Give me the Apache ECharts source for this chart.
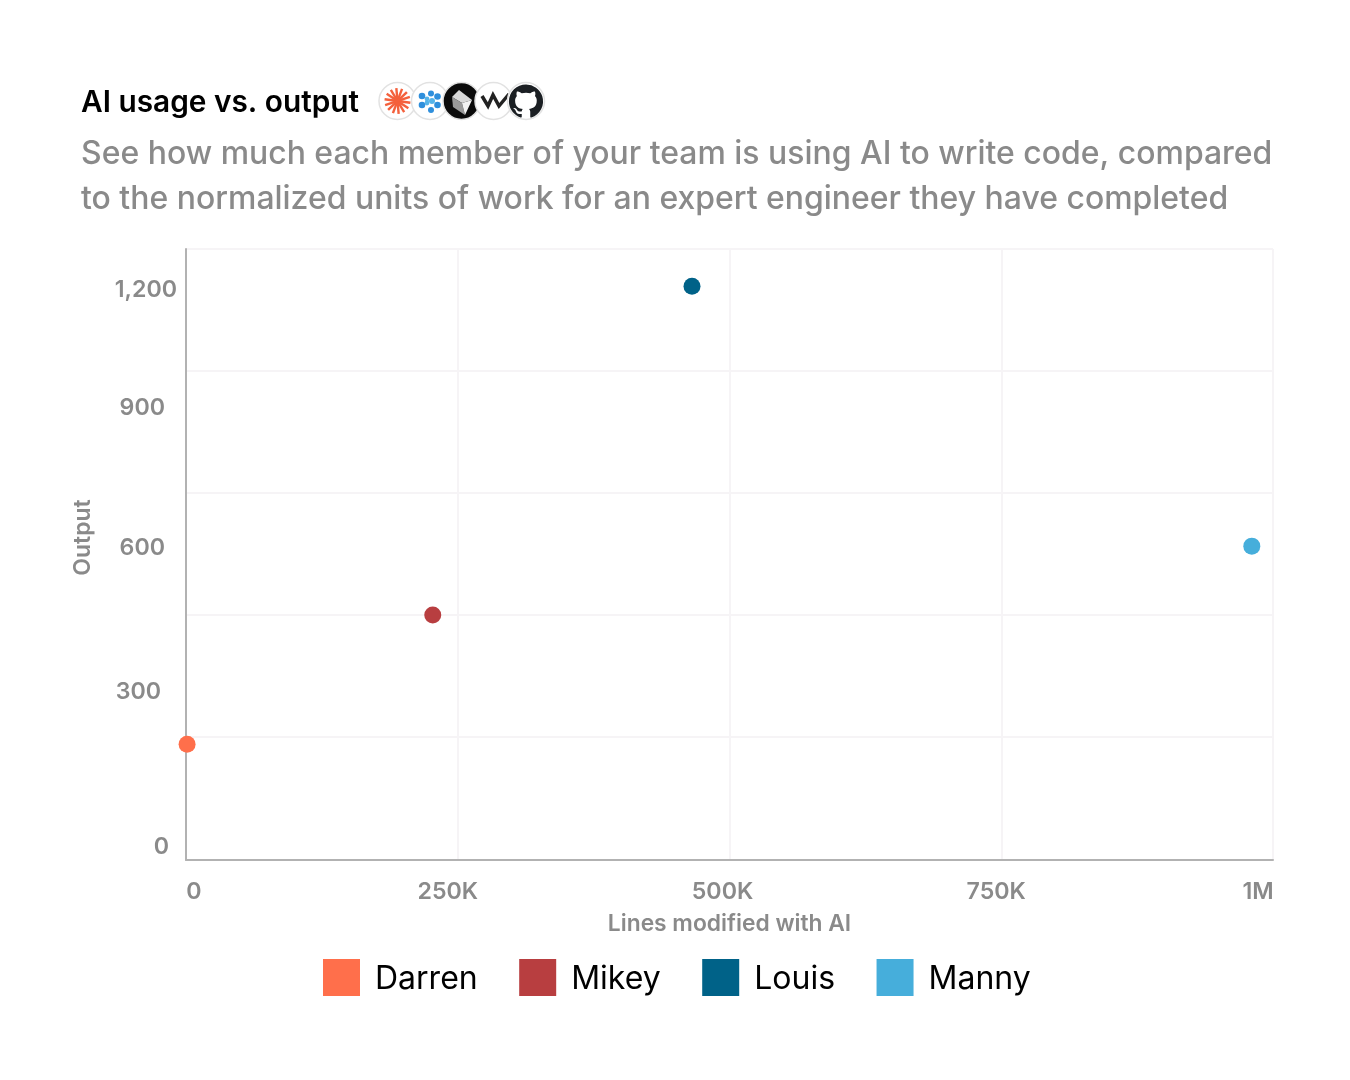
<!DOCTYPE html>
<html><head><meta charset="utf-8">
<style>html,body{margin:0;padding:0;background:#fff}#c{width:1350px;height:1080px}</style>
<script src="https://cdn.jsdelivr.net/npm/echarts@6/dist/echarts.min.js"></script>
</head><body><div id="c"></div>
<script>
const people = ['Darren','Mikey','Louis','Manny'];
const colors = ['#FF6F4B','#B83E40','#006288','#46AEDB'];
const linesModified = [1000, 227000, 465500, 980500];
const outputValues = [219, 497, 1204, 645];
const yTickValues = [0, 300, 600, 900, 1200];
const yGridValues = [-30, 234, 497, 759, 1022, 1284];
const xTickValues = [0, 250000, 500000, 750000, 1000000];
const xTickLabels = ['0','250K','500K','750K','1M'];

const FONT = 'Inter';
const GREY = '#8a8a8a';
const yNudge = {0:[2,8,0,0],300:[0,16,29,0],600:[0,12,38,0],900:[0,12,40,0],1200:[4,0,0,0]};
const xNudge = {0:[0,0,0,16],250000:[0,20,0,0],500000:[0,14,0,0],750000:[0,10,0,0],1000000:[0,30,0,0]};
const labelStyle = {fontFamily:FONT,fontSize:23.2,fontWeight:600,color:GREY,lineHeight:30};
const yRich = {}; yTickValues.forEach(v=>{yRich['v'+v]=Object.assign({padding:yNudge[v]},labelStyle)});
const xRich = {}; xTickValues.forEach(v=>{xRich['v'+v]=Object.assign({padding:xNudge[v]},labelStyle)});

const GITHUB = 'M12 .3a12 12 0 0 0-3.8 23.4c.6.1.8-.3.8-.6v-2c-3.3.7-4-1.6-4-1.6-.6-1.4-1.4-1.8-1.4-1.8-1-.7.1-.7.1-.7 1.2 0 1.9 1.2 1.9 1.2 1 1.8 2.8 1.3 3.5 1 0-.8.4-1.3.7-1.6-2.7-.3-5.5-1.3-5.5-6 0-1.2.5-2.3 1.3-3.1-.2-.4-.6-1.6 0-3.2 0 0 1-.3 3.4 1.2a11.5 11.5 0 0 1 6 0c2.3-1.5 3.3-1.2 3.3-1.2.6 1.6.2 2.8 0 3.2.9.8 1.3 1.9 1.3 3.2 0 4.6-2.8 5.6-5.5 5.9.5.4.9 1 .9 2.2v3.3c0 .3.1.7.8.6A12 12 0 0 0 12 .3';
echarts.graphic.registerShape('ghcat', echarts.graphic.extendPath(GITHUB, {}));
const ring = (cx,fill)=>({type:'circle',shape:{cx:cx,cy:101,r:18.5},style:{fill:fill||'#fff',stroke:'#e2e2e2',lineWidth:1.5}});
const rays = [];
for(let i=0;i<7;i++){const a=(i+0.3)*Math.PI/7,c=Math.cos(a)*13,s=Math.sin(a)*13;
  rays.push({type:'line',shape:{x1:397.5-c,y1:101-s,x2:397.5+c,y2:101+s},style:{stroke:'#F4603C',lineWidth:2.4}});}
const blue = [[422,96,3.3,'#2F8FDC'],[422,105,3.3,'#2F8FDC'],[431,93.5,3,'#2F8FDC'],[431,110,3,'#2F8FDC'],[437.5,96.5,3.3,'#2F8FDC'],[437.5,105,3.3,'#2F8FDC'],[427,99,2.4,'#56B4E9'],[427,103,2.4,'#56B4E9'],[432,101,3,'#56B4E9']]
  .map(d=>({type:'circle',shape:{cx:d[0],cy:d[1],r:d[2]},style:{fill:d[3]}}));
const icons = [ring(397.5)].concat(rays,[ring(430)],blue,[
  ring(461.5,'#0b0b0b'),
  {type:'polygon',shape:{points:[[452,97],[459,90],[472,100],[462,103]]},style:{fill:'#d9d9d9'}},
  {type:'polygon',shape:{points:[[452,97],[462,103],[465,115],[453,107]]},style:{fill:'#9a9a9a'}},
  {type:'polygon',shape:{points:[[462,103],[472,100],[465,115]]},style:{fill:'#f2f2f2'}},
  ring(493.5),
  {type:'polyline',shape:{points:[[482,96],[488,106],[493,95],[499,106],[509,94]]},style:{stroke:'#222',fill:null,lineWidth:3.5}},
  ring(526),
  {type:'ghcat',x:509,y:84,scaleX:34/24,scaleY:34/24,style:{fill:'#1b1f23'}}
]);

const chart = echarts.init(document.getElementById('c'),null,{renderer:'canvas'});
chart.setOption({
  animation:false,
  backgroundColor:'#fff',
  textStyle:{fontFamily:FONT},
  title:{left:76,top:79,text:'AI usage vs. output',
    textStyle:{fontFamily:FONT,fontSize:29.8,fontWeight:600,color:'#000',lineHeight:38},
    subtext:'See how much each member of your team is using AI to write code, compared\nto the normalized units of work for an expert engineer they have completed',
    subtextStyle:{fontFamily:FONT,fontSize:31.95,fontWeight:500,color:GREY,lineHeight:45},itemGap:10},
  legend:{left:318,top:954,itemWidth:37,itemHeight:37,itemGap:41.5,icon:'rect',
    data:people,formatter:'{n|{name}}',
    textStyle:{rich:{n:{fontFamily:FONT,fontSize:32,color:'#000',lineHeight:38,padding:[4,0,0,10]}}}},
  grid:{left:186,right:77,top:249,bottom:220,containLabel:false},
  xAxis:{type:'value',min:0,max:1000000,interval:250000,
    name:'Lines modified with AI',nameLocation:'middle',nameGap:53,
    nameTextStyle:{fontFamily:FONT,fontSize:22.8,fontWeight:600,color:GREY},
    axisLine:{show:true,onZero:false,lineStyle:{color:'#b2b2b2',width:2}},axisTick:{show:false},
    splitLine:{show:true,lineStyle:{color:'#f6f4f6',width:2}},
    axisLabel:{margin:17,customValues:xTickValues,rich:xRich,
      formatter:v=>'{v'+v+'|'+xTickLabels[xTickValues.indexOf(v)]+'}'}},
  yAxis:{type:'value',min:-30,max:1284,
    name:'Output',nameLocation:'middle',nameGap:91,
    nameTextStyle:{fontFamily:FONT,fontSize:23,fontWeight:600,color:GREY,padding:[0,0,0,34]},
    axisLine:{show:true,onZero:false,lineStyle:{color:'#b2b2b2',width:2}},
    axisTick:{show:false,customValues:yGridValues},
    splitLine:{show:true,lineStyle:{color:'#f6f4f6',width:2}},
    axisLabel:{margin:9,customValues:yTickValues,rich:yRich,
      formatter:v=>'{v'+v+'|'+v.toLocaleString('en-US')+'}'}},
  series:people.map((p,i)=>({name:p,type:'scatter',symbolSize:17,clip:false,
    itemStyle:{color:colors[i],opacity:1},
    data:[[linesModified[i],outputValues[i]]]})),
  graphic:icons
});
</script></body></html>
